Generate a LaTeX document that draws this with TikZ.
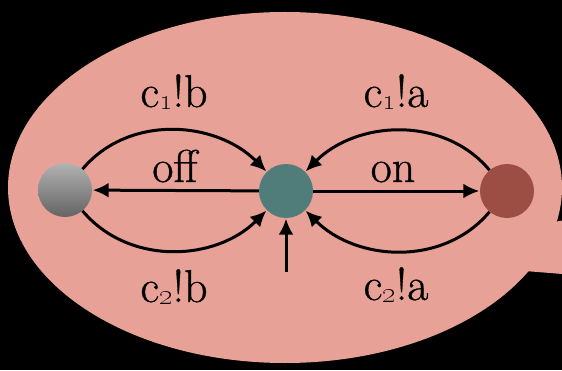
\documentclass[tikz,border=0pt]{standalone}
\usepackage{fontspec}
\newfontfamily\labfont{Latin Modern Roman}[FakeBold=0.7]
\usetikzlibrary{arrows.meta}
\definecolor{bubble}{RGB}{232,161,150}
\definecolor{tealnode}{RGB}{80,125,122}
\definecolor{rednode}{RGB}{156,78,69}
\newcommand{\sbx}[1]{\raisebox{-2.5pt}{\fontsize{28}{28}\usefont{TS1}{lmr}{m}{n}#1}}
\tikzset{
  st/.style={circle,minimum size=54pt,inner sep=0pt,draw=none},
  arr/.style={line width=3pt,-{Latex[length=16pt,width=15pt]},shorten >=0.5pt},
  lab/.style={font=\labfont\fontsize{46}{50}\selectfont,anchor=base,inner sep=0pt}
}
\begin{document}
\begin{tikzpicture}[x=1pt,y=1pt]
\useasboundingbox (0,0) rectangle (562,370);
\fill[black] (0,0) rectangle (562,370);
\begin{scope}
\clip (0,0) rectangle (562,370);
\fill[bubble] (285,182.5) ellipse [x radius=277pt, y radius=175.5pt];
\fill[bubble] (450,130) -- (600,156) -- (600,93) -- (450,105) -- cycle;
\end{scope}
\node[st,shading=axis,top color={rgb,255:red,178;green,178;blue,178},bottom color={rgb,255:red,100;green,100;blue,100}] (L) at (65,180) {};
\node[st,fill=tealnode] (M) at (286,179) {};
\node[st,fill=rednode] (R) at (507,179) {};
\coordinate (B) at (286,98);
\draw[arr] (M) -- (R);
\draw[arr] (M) -- (L);
\draw[arr] (L) to[out=50,in=135] (M);
\draw[arr] (R) to[out=130,in=45] (M);
\draw[arr] (L) to[out=-50,in=-135] (M);
\draw[arr] (R) to[out=-130,in=-45] (M);
\draw[arr] (B) -- (M);
\node[lab] (off) at (175,188) {off};
\node[lab] (on) at (393,188) {on};
\node[lab] (c1b) at (174,263) {c\sbx{1}!b};
\node[lab] (c1a) at (396,263) {c\sbx{1}!a};
\node[lab] (c2b) at (174,68) {c\sbx{2}!b};
\node[lab] (c2a) at (396,70) {c\sbx{2}!a};
\end{tikzpicture}
\end{document}
